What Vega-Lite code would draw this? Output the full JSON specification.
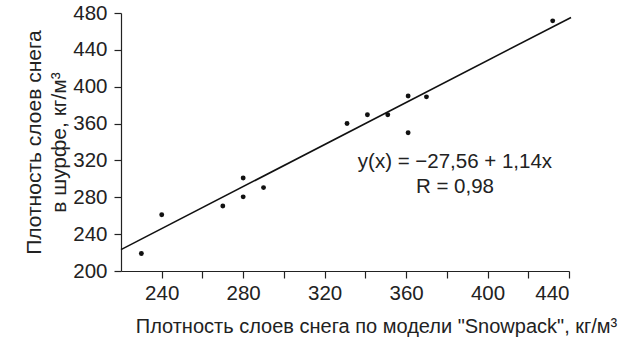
{
  "$schema": "https://vega.github.io/schema/vega-lite/v6.json",
  "autosize": "none",
  "width": 448,
  "height": 258,
  "padding": {"left": 121, "top": 13, "right": 58, "bottom": 72},
  "background": "white",
  "config": {
    "view": {"stroke": null},
    "font": "Liberation Sans",
    "axis": {
      "grid": false,
      "domainColor": "#222",
      "tickColor": "#222",
      "labelColor": "#222",
      "titleColor": "#222",
      "labelFont": "Liberation Sans",
      "titleFont": "Liberation Sans",
      "labelFontSize": 20.5,
      "titleFontSize": 20,
      "titleFontWeight": "normal",
      "labelOverlap": false,
      "tickSize": 7,
      "domainWidth": 1.2,
      "tickWidth": 1.2
    }
  },
  "datasets": {
    "pts": [
      {"model": 230, "pit": 219},
      {"model": 240, "pit": 261},
      {"model": 270, "pit": 270.5},
      {"model": 280, "pit": 301},
      {"model": 280, "pit": 280.5},
      {"model": 290, "pit": 290.5},
      {"model": 331, "pit": 360},
      {"model": 341, "pit": 369.5},
      {"model": 351, "pit": 369.5},
      {"model": 361, "pit": 390},
      {"model": 361, "pit": 350},
      {"model": 370, "pit": 389},
      {"model": 432, "pit": 471.5}
    ],
    "fit": [
      {"model": 220, "pit": 223.2},
      {"model": 441, "pit": 475.2}
    ],
    "ann": [
      {"model": 384, "pit": 318, "label": "y(x) = −27,56 + 1,14x"},
      {"model": 384, "pit": 291, "label": "R = 0,98"}
    ]
  },
  "encoding": {
    "x": {
      "field": "model", "type": "quantitative",
      "scale": {"domain": [220, 440], "nice": false, "zero": false},
      "axis": {
        "values": [240, 260, 280, 300, 320, 340, 360, 380, 400, 420, 440],
        "labelExpr": "datum.value % 40 === 0 ? datum.label : ''",
        "labelOverlap": false,
        "labelPadding": 5,
        "title": "Плотность слоев снега по модели \"Snowpack\", кг/м³",
        "titleX": 255,
        "titleY": 55,
        "titleAlign": "center",
        "titleBaseline": "middle"
      }
    },
    "y": {
      "field": "pit", "type": "quantitative",
      "scale": {"domain": [200, 480], "nice": false, "zero": false},
      "axis": {
        "values": [200, 240, 280, 320, 360, 400, 440, 480],
        "labelOverlap": false,
        "labelPadding": 7,
        "titleFontSize": 21,
        "title": ["Плотность слоев снега", "в шурфе, кг/м³"],
        "titleX": -86.5,
        "titleY": 129,
        "titleAngle": -90,
        "titleAlign": "center",
        "titleBaseline": "middle",
        "titleLineHeight": 25
      }
    }
  },
  "layer": [
    {
      "data": {"name": "fit"},
      "mark": {"type": "line", "color": "#111", "strokeWidth": 1.6, "clip": false}
    },
    {
      "data": {"name": "pts"},
      "mark": {"type": "circle", "color": "#111", "size": 24, "opacity": 1}
    },
    {
      "data": {"name": "ann"},
      "mark": {"type": "text", "fontSize": 20.5, "color": "#222", "font": "Liberation Sans", "align": "center", "baseline": "middle"},
      "encoding": {
        "text": {"field": "label"}
      }
    }
  ]
}
